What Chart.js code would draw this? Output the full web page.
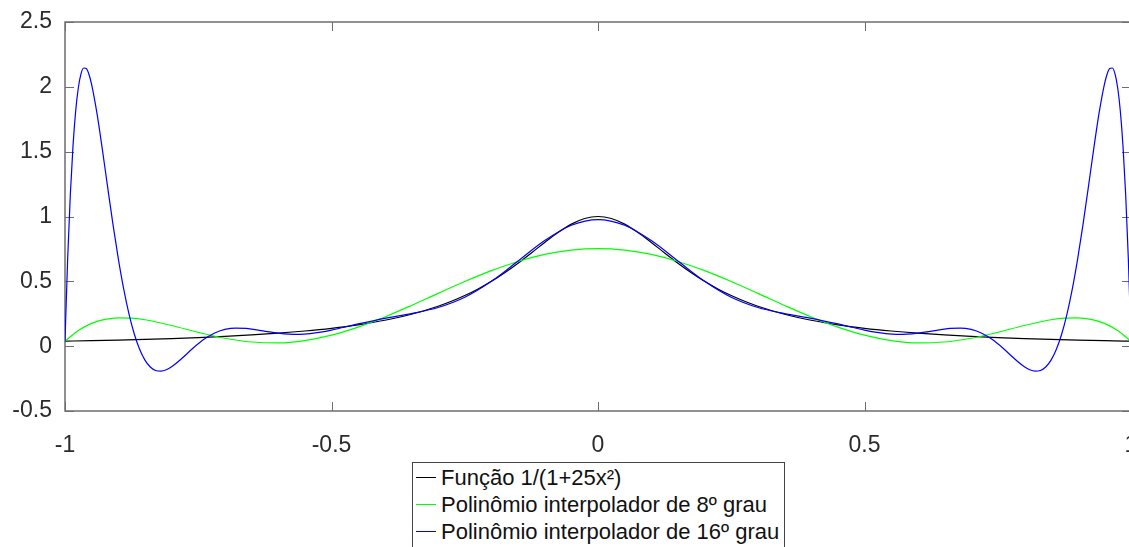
<!DOCTYPE html>
<html><head><meta charset="utf-8">
<script src="https://cdn.jsdelivr.net/npm/chart.js@4.4.1/dist/chart.umd.min.js"></script>
<style>
html,body{margin:0;padding:0;background:#fff;overflow:hidden;width:1129px;height:547px;}
#wrap{position:relative;width:1138px;height:547px;}
#legend{position:absolute;left:412px;top:462px;width:371px;height:100px;border:1px solid #444;background:#fff;font-family:"Liberation Sans",Arial,sans-serif;font-size:22px;color:#111;padding-top:1px;}
.row{height:27px;line-height:27px;white-space:nowrap;position:relative;}
.row .ln{position:absolute;left:3px;top:13px;width:20px;height:1px;}
.row .tx{position:absolute;left:28px;top:0;}
</style></head>
<body>
<div id="wrap"><canvas id="c" width="1138" height="547"></canvas><div id="legend"></div></div>
<script>
const seriesLabels = ["Função 1/(1+25x²)", "Polinômio interpolador de 8º grau", "Polinômio interpolador de 16º grau"];
const seriesColors = ["#000000", "#00ff00", "#0000ff"];
const xTicks = [-1, -0.5, 0, 0.5, 1];
const yTicks = [-0.5, 0, 0.5, 1, 1.5, 2, 2.5];

const blackX = [-1,-0.95,-0.9,-0.85,-0.8,-0.75,-0.7,-0.65,-0.6,-0.55,-0.5,-0.45,-0.4,-0.35,-0.3,-0.275,-0.25,-0.225,-0.2,-0.175,-0.15,-0.125,-0.1,-0.075,-0.05,-0.025,0,
  0.025,0.05,0.075,0.1,0.125,0.15,0.175,0.2,0.225,0.25,0.275,0.3,0.35,0.4,0.45,0.5,0.55,0.6,0.65,0.7,0.75,0.8,0.85,0.9,0.95,1];
const blackY = [0.0385,0.0424,0.0471,0.0525,0.0588,0.0664,0.0755,0.0865,0.1,0.1168,0.1379,0.1649,0.2,0.2462,0.3077,0.3459,0.3902,0.4414,0.5,0.5664,0.64,0.7191,0.8,0.8767,0.9412,0.9846,1,
  0.9846,0.9412,0.8767,0.8,0.7191,0.64,0.5664,0.5,0.4414,0.3902,0.3459,0.3077,0.2462,0.2,0.1649,0.1379,0.1168,0.1,0.0865,0.0755,0.0664,0.0588,0.0525,0.0471,0.0424,0.0385];

const p8X = [-1,-0.975,-0.95,-0.925,-0.9,-0.875,-0.85,-0.8,-0.75,-0.7,-0.65,-0.6,-0.55,-0.5,-0.45,-0.4,-0.35,-0.3,-0.25,-0.2,-0.15,-0.1,-0.05,0,
  0.05,0.1,0.15,0.2,0.25,0.3,0.35,0.4,0.45,0.5,0.55,0.6,0.65,0.7,0.75,0.8,0.85,0.875,0.9,0.925,0.95,0.975,1];
const p8Y = [0.0385,0.1213,0.1756,0.2064,0.2185,0.2164,0.2037,0.1593,0.1067,0.0610,0.0321,0.0256,0.0434,0.0849,0.1470,0.2252,0.3138,0.4069,0.4983,0.5822,0.6533,0.7074,0.7412,0.7526,
  0.7412,0.7074,0.6533,0.5822,0.4983,0.4069,0.3138,0.2252,0.1470,0.0849,0.0434,0.0256,0.0321,0.0610,0.1067,0.1593,0.2037,0.2164,0.2185,0.2064,0.1756,0.1213,0.0385];

const p16X = [-1,-0.995,-0.99,-0.985,-0.98,-0.975,-0.97,-0.965,-0.96,-0.955,-0.95,-0.94,-0.93,-0.92,-0.91,-0.9,-0.89,-0.88,-0.87,-0.86,-0.85,-0.84,-0.83,-0.82,-0.81,-0.8,-0.78,-0.76,-0.74,-0.72,-0.7,-0.68,-0.66,-0.64,-0.62,-0.6,-0.58,-0.56,-0.54,-0.52,-0.5,-0.45,-0.4,-0.35,-0.3,-0.25,-0.2,-0.15,-0.1,-0.05,0,
  0.05,0.1,0.15,0.2,0.25,0.3,0.35,0.4,0.45,0.5,0.52,0.54,0.56,0.58,0.6,0.62,0.64,0.66,0.68,0.7,0.72,0.74,0.76,0.78,0.8,0.81,0.82,0.83,0.84,0.85,0.86,0.87,0.88,0.89,0.9,0.91,0.92,0.93,0.94,0.95,0.955,0.96,0.965,0.97,0.975,0.98,0.985,0.99,0.995,1];
const p16Y = [0.0385,0.6752,1.1698,1.5429,1.8118,1.9927,2.0997,2.1453,2.1406,2.0953,2.0178,1.7951,1.5198,1.2266,0.9399,0.6758,0.4441,0.2497,0.0940,-0.0242,-0.1077,-0.1606,-0.1875,-0.1931,-0.1821,-0.1589,-0.0915,-0.0160,0.0507,0.0998,0.1289,0.1398,0.1371,0.1261,0.1123,0.1,0.0924,0.0911,0.0965,0.1078,0.1236,0.1715,0.2150,0.2515,0.2979,0.3769,0.5,0.6565,0.8144,0.9325,0.9763,
  0.9325,0.8144,0.6565,0.5,0.3769,0.2979,0.2515,0.2150,0.1715,0.1236,0.1078,0.0965,0.0911,0.0924,0.1,0.1123,0.1261,0.1371,0.1398,0.1289,0.0998,0.0507,-0.0160,-0.0915,-0.1589,-0.1821,-0.1931,-0.1875,-0.1606,-0.1077,-0.0242,0.0940,0.2497,0.4441,0.6758,0.9399,1.2266,1.5198,1.7951,2.0178,2.0953,2.1406,2.1453,2.0997,1.9927,1.8118,1.5429,1.1698,0.6752,0.0385];

const toPts = (xs, ys) => xs.map((x, i) => ({x: x, y: ys[i]}));

const FONT = '"Liberation Sans", Arial, Helvetica, sans-serif';
const frameColor = '#6e6e6e';
const tickLen = 9;

const framePlugin = {
  id: 'frame',
  beforeDatasetsDraw(chart) {
    const ctx = chart.ctx, a = chart.chartArea;
    const xs = chart.scales.x, ys = chart.scales.y;
    ctx.save();
    ctx.strokeStyle = frameColor;
    ctx.lineWidth = 1.5;
    ctx.beginPath();
    ctx.rect(a.left, a.top, a.right - a.left, a.bottom - a.top);
    ctx.stroke();
    ctx.lineWidth = 1;
    ctx.beginPath();
    xTicks.forEach(v => {
      const px = Math.round(xs.getPixelForValue(v)) + 0.5;
      ctx.moveTo(px, a.bottom); ctx.lineTo(px, a.bottom - tickLen);
      ctx.moveTo(px, a.top); ctx.lineTo(px, a.top + tickLen);
    });
    yTicks.forEach(v => {
      const py = Math.round(ys.getPixelForValue(v)) + 0.5;
      ctx.moveTo(a.left, py); ctx.lineTo(a.left + tickLen, py);
      ctx.moveTo(a.right, py); ctx.lineTo(a.right - tickLen, py);
    });
    ctx.stroke();
    ctx.restore();
  }
};

const datasets = [
  {label: seriesLabels[0], data: toPts(blackX, blackY), borderColor: seriesColors[0], order: 2},
  {label: seriesLabels[1], data: toPts(p8X, p8Y), borderColor: seriesColors[1], order: 1},
  {label: seriesLabels[2], data: toPts(p16X, p16Y), borderColor: seriesColors[2], order: 0}
].map(d => Object.assign(d, {borderWidth: 1.2, pointRadius: 0, fill: false, cubicInterpolationMode: 'monotone'}));

new Chart(document.getElementById('c'), {
  type: 'line',
  data: {datasets: datasets},
  options: {
    responsive: false,
    animation: false,
    devicePixelRatio: 1,
    layout: {padding: {top: 22, right: 7, left: 0, bottom: 0}},
    plugins: {legend: {display: false}, tooltip: {enabled: false}},
    scales: {
      x: {
        type: 'linear', min: -1, max: 1,
        afterBuildTicks: s => { s.ticks = xTicks.map(v => ({value: v})); },
        afterFit: s => { s.height = 136; s.paddingLeft = 0; s.paddingRight = 0; },
        grid: {display: false, drawTicks: false},
        border: {display: false},
        ticks: {padding: 21, color: '#2b2b2b', font: {family: FONT, size: 23}, maxRotation: 0, autoSkip: false,
          callback: v => String(v)}
      },
      y: {
        type: 'linear', min: -0.5, max: 2.5,
        afterBuildTicks: s => { s.ticks = yTicks.map(v => ({value: v})); },
        afterFit: s => { s.width = 65; s.paddingTop = 0; s.paddingBottom = 0; },
        grid: {display: false, drawTicks: false},
        border: {display: false},
        ticks: {padding: 13, color: '#2b2b2b', font: {family: FONT, size: 23}, autoSkip: false,
          callback: v => String(v)}
      }
    }
  },
  plugins: [framePlugin]
});

const lg = document.getElementById('legend');
seriesLabels.forEach((t, i) => {
  const r = document.createElement('div'); r.className = 'row';
  const l = document.createElement('span'); l.className = 'ln'; l.style.background = seriesColors[i];
  const s = document.createElement('span'); s.className = 'tx'; s.textContent = t;
  r.appendChild(l); r.appendChild(s); lg.appendChild(r);
});
</script>
</body></html>
